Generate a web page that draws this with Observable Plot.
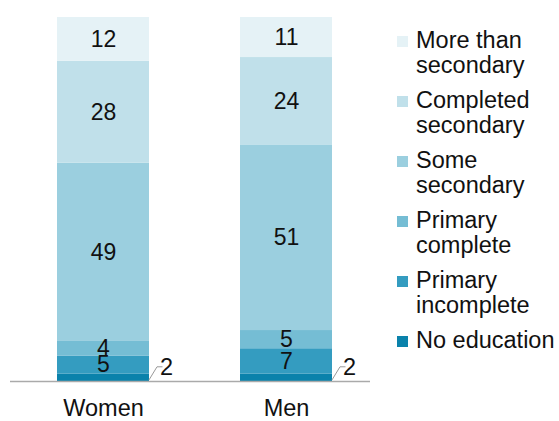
<!DOCTYPE html>
<html>
<head>
<meta charset="utf-8">
<script src="https://cdn.jsdelivr.net/npm/d3@7"></script>
<script src="https://cdn.jsdelivr.net/npm/@observablehq/plot@0.6"></script>
<style>
  body { margin: 0; background: #fff; font-family: "Liberation Sans", Arial, sans-serif; }
  #wrap { position: relative; width: 559px; height: 421px; }
  #chart { position: absolute; left: 0; top: 0; }
  #legend { position: absolute; left: 397px; top: 28px; color: #111; font-size: 23.5px; line-height: 25px; }
  .item { display: flex; align-items: flex-start; margin-bottom: 10px; }
  .item:last-child { margin-top: 3px; }
  .sw { width: 11px; height: 11px; margin-top: 8px; margin-right: 8px; flex: none; }
  .lab { width: 150px; white-space: normal; }
</style>
</head>
<body>
<div id="wrap"><div id="chart"></div><div id="legend"></div></div>
<script>
const categories = ["Women", "Men"];
const levels = ["No education", "Primary incomplete", "Primary complete", "Some secondary", "Completed secondary", "More than secondary"];
const women = [2, 5, 4, 49, 28, 12];
const men = [2, 7, 5, 51, 24, 11];
const colors = ["#0a82ab", "#349cc0", "#75bdd4", "#9bcfdf", "#c0e0ea", "#e5f2f6"];

const series = {Women: women, Men: men};
const data = levels.flatMap((l, i) => categories.map(c => ({sex: c, level: l, value: series[c][i]})));

const leader = (index, scales) => {
  const g = d3.create("svg:g");
  for (const c of categories) {
    const xr = scales.x(c) + scales.x.bandwidth();
    const v = series[c][0];
    const y0 = scales.y(0.3), y1 = scales.y(3.9);
    g.append("path")
      .attr("d", `M${xr},${y0}L${xr + 8},${y1}L${xr + 13.5},${y1}`)
      .attr("fill", "none").attr("stroke", "#999").attr("stroke-width", 1);
    g.append("text")
      .attr("x", xr + 17.5).attr("y", y1).attr("dy", "0.36em")
      .attr("font-size", 23.5).attr("fill", "#111")
      .text(v);
  }
  return g.node();
};

const chart = Plot.plot({
  width: 380,
  height: 421,
  marginTop: 17,
  marginBottom: 40,
  marginLeft: 10,
  marginRight: 10,
  style: {fontSize: "23.5px", fontFamily: "Liberation Sans, Arial, sans-serif", color: "#111", background: "#fff"},
  x: {domain: categories, range: [11, 377], paddingInner: 0.5, paddingOuter: 0.25, tickSize: 0, tickPadding: 18, label: null},
  y: {domain: [0, 100], axis: null},
  color: {domain: levels, range: colors},
  marks: [
    Plot.barY(data, Plot.stackY({x: "sex", y: "value", fill: "level", order: levels})),
    Plot.text(data, Plot.stackY({x: "sex", y: "value", z: "level", order: levels, text: d => d.level === "No education" ? null : String(d.value), fill: "#111", fontSize: 23})),
    Plot.ruleY([0], {stroke: "#aaa", strokeWidth: 1.5}),
    leader
  ]
});
document.getElementById("chart").appendChild(chart);

const legend = document.getElementById("legend");
levels.slice().reverse().forEach((l) => {
  const i = levels.indexOf(l);
  const item = document.createElement("div");
  item.className = "item";
  item.innerHTML = `<div class="sw" style="background:${colors[i]}"></div><div class="lab">${l}</div>`;
  legend.appendChild(item);
});
</script>
</body>
</html>
